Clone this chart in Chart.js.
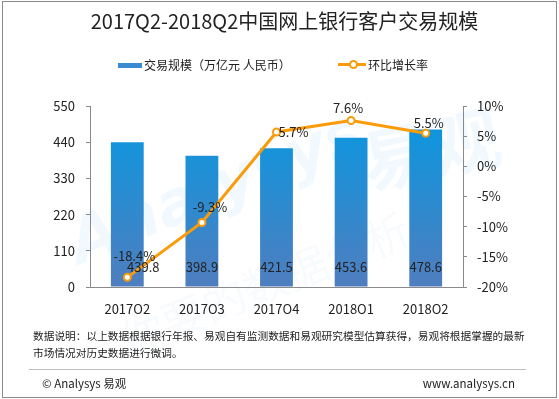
<!DOCTYPE html>
<html>
<head>
<meta charset="utf-8">
<script src="https://cdn.jsdelivr.net/npm/chart.js@4.4.0/dist/chart.umd.min.js"></script>
<style>
  html, body { margin: 0; padding: 0; background: #fff; }
  body { width: 559px; height: 399px; position: relative; overflow: hidden;
         font-family: "Noto Sans CJK SC", "Noto Sans", sans-serif; color: #222; }
  #frame { position: absolute; left: 2px; top: 1px; width: 553px; height: 395px; border: 1px solid #8a8a8a; }
  #c { position: absolute; left: 0; top: 0; }
  .t { position: absolute; white-space: nowrap; }
  #title { left: 5px; width: 559px; top: 7px; text-align: center; font-size: 20px; line-height: 28px; color: #222; }
  .lg { top: 57px; font-size: 12px; line-height: 16px; color: #222; }
  #barkey { position: absolute; left: 118px; top: 63px; width: 24px; height: 5px; background: #3a8bd2; }
  #linekey { position: absolute; left: 338px; top: 63px; width: 28px; height: 3px; background: #fa9b0a; }
  #linedot { position: absolute; left: 349px; top: 60px; width: 5px; height: 5px; border: 2px solid #fa9b0a; border-radius: 50%; background: #fff; }
  .note { left: 33px; font-size: 10.7px; line-height: 17px; color: #222; }
  #sep { position: absolute; left: 29px; top: 369px; width: 497px; height: 1px; background: #bdbdbd; }
  .foot { top: 375px; font-size: 11.5px; line-height: 16px; color: #222; }
  .wm { position: absolute; white-space: nowrap; font-weight: bold; pointer-events: none; }
</style>
</head>
<body>
<div class="wm" style="left:60px;top:150px;font-size:62px;color:rgba(0,140,230,0.05);transform:rotate(-22deg);font-family:'DejaVu Sans';font-style:italic;">Analysys</div>
<div class="wm" style="left:360px;top:95px;font-size:70px;color:rgba(0,140,230,0.05);transform:rotate(-12deg);">易观</div>
<div class="wm" style="left:110px;top:250px;font-size:44px;font-weight:normal;color:rgba(0,140,230,0.05);transform:rotate(-22deg);">你要的数据分析</div>

<canvas id="c" width="559" height="399"></canvas>
<div id="frame"></div>
<div id="title" class="t">2017Q2-2018Q2中国网上银行客户交易规模</div>
<div id="barkey"></div>
<div class="t lg" style="left:144px;">交易规模（万亿元 人民币）</div>
<div id="linekey"></div>
<div id="linedot"></div>
<div class="t lg" style="left:368px;">环比增长率</div>
<div class="t note" style="top:327px;">数据说明：以上数据根据银行年报、易观自有监测数据和易观研究模型估算获得，易观将根据掌握的最新</div>
<div class="t note" style="top:344px;">市场情况对历史数据进行微调。</div>
<div id="sep"></div>
<div class="t foot" style="left:42px;">© Analysys 易观</div>
<div class="t foot" style="right:44px;">www.analysys.cn</div>

<script>
// 数据
const quarters = ['2017Q2', '2017Q3', '2017Q4', '2018Q1', '2018Q2'];
const tradeScale = [439.8, 398.9, 421.5, 453.6, 478.6];
const growthRate = [-18.4, -9.3, 5.7, 7.6, 5.5];

// 标签偏移 (像素)
const barLabelShift = [16, 0, 0, 0, 0];
const rateLabelShift = [[7, -21], [8, -15], [17, 0], [-3, -12], [3, -10]];

const FONT = '"Noto Sans CJK SC", "Noto Sans", sans-serif';
const TXT = '#222';

const ctx = document.getElementById('c');

const valueLabels = {
  id: 'valueLabels',
  afterDatasetsDraw(chart) {
    const c = chart.ctx;
    c.save();
    c.font = '13px ' + FONT;
    c.fillStyle = TXT;
    c.textAlign = 'center';
    c.textBaseline = 'middle';
    const base = chart.scales.y.getPixelForValue(0);
    // 柱子标签
    chart.getDatasetMeta(1).data.forEach((bar, i) => {
      c.fillText(tradeScale[i].toFixed(1), bar.x + barLabelShift[i], base - 20);
    });
    // 折线标签
    chart.getDatasetMeta(0).data.forEach((pt, i) => {
      c.fillText(growthRate[i].toFixed(1) + '%', pt.x + rateLabelShift[i][0], pt.y + rateLabelShift[i][1]);
    });
    c.restore();
  }
};

new Chart(ctx, {
  data: {
    labels: quarters,
    datasets: [{
      type: 'line',
      label: '环比增长率',
      data: growthRate,
      yAxisID: 'y1',
      borderColor: '#fa9b0a',
      borderWidth: 3,
      tension: 0,
      pointRadius: 3.5,
      pointBorderWidth: 2,
      pointBackgroundColor: '#fff',
      pointBorderColor: '#fa9b0a',
      order: 0
    }, {
      type: 'bar',
      label: '交易规模（万亿元 人民币）',
      data: tradeScale,
      yAxisID: 'y',
      barPercentage: 0.44,
      categoryPercentage: 1,
      backgroundColor: (context) => {
        const area = context.chart.chartArea;
        if (!area) return '#2a8ad6';
        const g = context.chart.ctx.createLinearGradient(0, area.top, 0, area.bottom);
        g.addColorStop(0, '#0699e2');
        g.addColorStop(1, '#4f7ebf');
        return g;
      },
      order: 1
    }]
  },
  options: {
    responsive: false,
    animation: false,
    layout: { padding: { top: 106, bottom: 85, left: 0, right: 0 } },
    plugins: { legend: { display: false }, tooltip: { enabled: false } },
    scales: {
      x: {
        afterFit: (s) => { s.height = 27; },
        grid: { display: false },
        border: { color: '#8a8a8a', width: 1 },
        ticks: { color: TXT, font: { size: 13, family: FONT }, padding: 6 }
      },
      y: {
        position: 'left',
        min: 0, max: 550,
        afterFit: (s) => { s.width = 90; },
        ticks: { stepSize: 110, color: TXT, font: { size: 13, family: FONT }, padding: 11 },
        grid: { drawOnChartArea: false, tickLength: 4, color: '#8a8a8a' },
        border: { color: '#8a8a8a', width: 1 }
      },
      y1: {
        position: 'right',
        min: -20, max: 10,
        afterFit: (s) => { s.width = 96; },
        ticks: { stepSize: 5, color: TXT, font: { size: 13, family: FONT }, padding: 10,
                 callback: (v) => v + '%' },
        grid: { drawOnChartArea: false, tickLength: 4, color: '#8a8a8a' },
        border: { color: '#8a8a8a', width: 1 }
      }
    }
  },
  plugins: [valueLabels]
});
</script>
</body>
</html>
